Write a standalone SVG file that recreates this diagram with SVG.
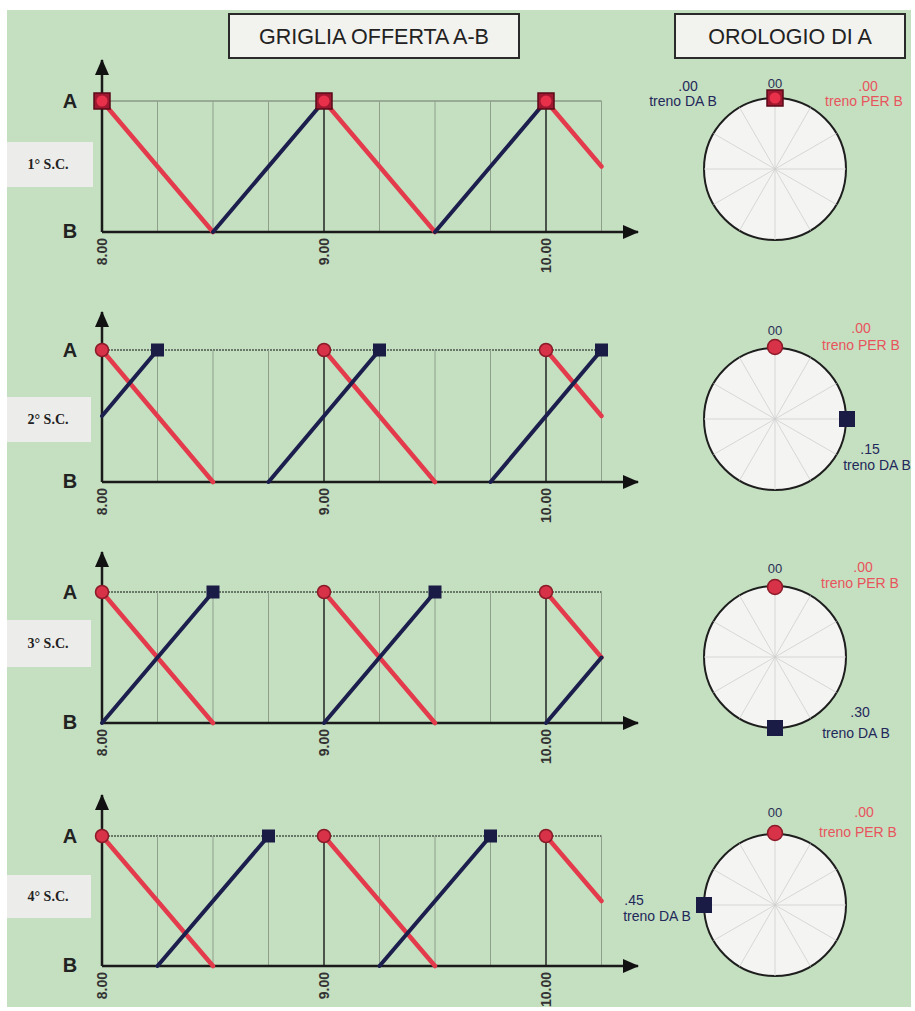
<svg xmlns="http://www.w3.org/2000/svg" width="915" height="1011" viewBox="0 0 915 1011">
<style>
.hdr{fill:#f2f2ee;stroke:#2a2a2a;stroke-width:2}
.hdrt{font-family:"Liberation Sans",Arial,sans-serif;font-size:21.5px;fill:#222;text-anchor:middle}
.ab{font-family:"Liberation Sans",Arial,sans-serif;font-size:20px;font-weight:bold;fill:#222;text-anchor:middle}
.sc{fill:#ececea}
.sct{font-family:"Liberation Serif","Times New Roman",serif;font-size:14px;font-weight:bold;fill:#222;text-anchor:middle}
.tick{font-family:"Liberation Sans",Arial,sans-serif;font-size:14px;font-weight:bold;fill:#333;text-anchor:end}
.grid{stroke:#8f9f8c;stroke-width:1;fill:none}
.hour{stroke:#4a544a;stroke-width:2;fill:none}
.topsolid{stroke:#6a786a;stroke-width:1.2}
.topdot{stroke:#4a564a;stroke-width:1.6;stroke-dasharray:2 1}
.axis{stroke:#1a1a1a;stroke-width:2.5;fill:none}
.red{stroke:#e33b4b;stroke-width:4.5;fill:none;stroke-linecap:round}
.blue{stroke:#1c1f4d;stroke-width:4;fill:none;stroke-linecap:round}
.rc{fill:#d83248;stroke:#8a1a28;stroke-width:1.5}
.nq{fill:#1a1c45}
.rq{fill:#a01830;stroke:#5a0a18;stroke-width:1.5}
.rqc{fill:#e8304a}
.face{fill:#f4f4f2;stroke:#1e1e1e;stroke-width:2}
.spoke{stroke:#cfcfcf;stroke-width:0.8}
.cl{font-family:"Liberation Sans",Arial,sans-serif;font-size:14px;text-anchor:middle}
.cn{fill:#23285a}
.cr{fill:#e8545c}
.c00{font-family:"Liberation Sans",Arial,sans-serif;font-size:13px;fill:#2a2f55;text-anchor:middle}
</style>
<defs>
<marker id="arr" markerUnits="userSpaceOnUse" markerWidth="16" markerHeight="14" refX="15" refY="7" orient="auto">
<path d="M0,0 L16,7 L0,14 Z" fill="#111"/>
</marker>
<g id="spokes">
<line class="spoke" x1="0" y1="-71" x2="0" y2="71"/>
<line class="spoke" x1="-71" y1="0" x2="71" y2="0"/>
<line class="spoke" x1="-35.5" y1="-61.5" x2="35.5" y2="61.5"/>
<line class="spoke" x1="35.5" y1="-61.5" x2="-35.5" y2="61.5"/>
<line class="spoke" x1="-61.5" y1="-35.5" x2="61.5" y2="35.5"/>
<line class="spoke" x1="61.5" y1="-35.5" x2="-61.5" y2="35.5"/>
</g>
</defs>
<rect x="0" y="0" width="915" height="1011" fill="#ffffff"/>
<rect x="7" y="10" width="904" height="997" fill="#c5dfc1"/>

<g id="header-griglia">
<rect class="hdr" x="229" y="14" width="290" height="44"/>
<text class="hdrt" x="374" y="44">GRIGLIA OFFERTA A-B</text>
</g>
<g id="header-orologio">
<rect class="hdr" x="675" y="14" width="230" height="44"/>
<text class="hdrt" x="790" y="44">OROLOGIO DI A</text>
</g>

<!-- Panel 1 -->
<g id="panel-1">
<rect class="sc" x="7" y="142" width="86" height="45"/>
<text class="sct" x="48" y="169">1° S.C.</text>
<text class="ab" x="70" y="108">A</text>
<text class="ab" x="70" y="238">B</text>
<line class="topsolid" x1="102" y1="101" x2="601.5" y2="101"/>
<path class="grid" d="M157.5,101V232M213,101V232M268.5,101V232M379.5,101V232M435,101V232M490.5,101V232M601.5,101V232"/>
<path class="hour" d="M324,101V232M546,101V232"/>
<line class="axis" x1="102" y1="232" x2="102" y2="60" marker-end="url(#arr)"/>
<line class="axis" x1="102" y1="232" x2="638" y2="232" marker-end="url(#arr)"/>
<text class="tick" transform="translate(107,238) rotate(-90)">8.00</text>
<text class="tick" transform="translate(329,238) rotate(-90)">9.00</text>
<text class="tick" transform="translate(551,238) rotate(-90)">10.00</text>
</g>

<!-- Panel 2 -->
<g id="panel-2">
<rect class="sc" x="7" y="397" width="84" height="45"/>
<text class="sct" x="48" y="424">2° S.C.</text>
<text class="ab" x="70" y="357">A</text>
<text class="ab" x="70" y="488">B</text>
<line class="topdot" x1="102" y1="350" x2="601.5" y2="350"/>
<path class="grid" d="M157.5,350V482M213,350V482M268.5,350V482M379.5,350V482M435,350V482M490.5,350V482M601.5,350V482"/>
<path class="hour" d="M324,350V482M546,350V482"/>
<line class="axis" x1="102" y1="482" x2="102" y2="312" marker-end="url(#arr)"/>
<line class="axis" x1="102" y1="482" x2="638" y2="482" marker-end="url(#arr)"/>
<text class="tick" transform="translate(107,488) rotate(-90)">8.00</text>
<text class="tick" transform="translate(329,488) rotate(-90)">9.00</text>
<text class="tick" transform="translate(551,488) rotate(-90)">10.00</text>
</g>

<!-- Panel 3 -->
<g id="panel-3">
<rect class="sc" x="7" y="620" width="84" height="47"/>
<text class="sct" x="48" y="648">3° S.C.</text>
<text class="ab" x="70" y="599">A</text>
<text class="ab" x="70" y="729">B</text>
<line class="topdot" x1="102" y1="592" x2="601.5" y2="592"/>
<path class="grid" d="M157.5,592V723M213,592V723M268.5,592V723M379.5,592V723M435,592V723M490.5,592V723M601.5,592V723"/>
<path class="hour" d="M324,592V723M546,592V723"/>
<line class="axis" x1="102" y1="723" x2="102" y2="552" marker-end="url(#arr)"/>
<line class="axis" x1="102" y1="723" x2="638" y2="723" marker-end="url(#arr)"/>
<text class="tick" transform="translate(107,729) rotate(-90)">8.00</text>
<text class="tick" transform="translate(329,729) rotate(-90)">9.00</text>
<text class="tick" transform="translate(551,729) rotate(-90)">10.00</text>
</g>

<!-- Panel 4 -->
<g id="panel-4">
<rect class="sc" x="7" y="875" width="84" height="43"/>
<text class="sct" x="48" y="901">4° S.C.</text>
<text class="ab" x="70" y="843">A</text>
<text class="ab" x="70" y="972">B</text>
<line class="topdot" x1="102" y1="836" x2="601.5" y2="836"/>
<path class="grid" d="M157.5,836V966M213,836V966M268.5,836V966M379.5,836V966M435,836V966M490.5,836V966M601.5,836V966"/>
<path class="hour" d="M324,836V966M546,836V966"/>
<line class="axis" x1="102" y1="966" x2="102" y2="795" marker-end="url(#arr)"/>
<line class="axis" x1="102" y1="966" x2="638" y2="966" marker-end="url(#arr)"/>
<text class="tick" transform="translate(107,972) rotate(-90)">8.00</text>
<text class="tick" transform="translate(329,972) rotate(-90)">9.00</text>
<text class="tick" transform="translate(551,972) rotate(-90)">10.00</text>
</g>

<g id="connectors">
<path class="red" d="M102,101L213,232M324,101L435,232M546,101L601.5,166.5"/>
<path class="blue" d="M213,232L324,101M435,232L546,101"/>
<path class="red" d="M102,350L213,482M324,350L435,482M546,350L601.5,416"/>
<path class="blue" d="M102,416L157.5,350M268.5,482L379.5,350M490.5,482L601.5,350"/>
<path class="red" d="M102,592L213,723M324,592L435,723M546,592L601.5,657.5"/>
<path class="blue" d="M102,723L213,592M324,723L435,592M546,723L601.5,657.5"/>
<path class="red" d="M102,836L213,966M324,836L435,966M546,836L601.5,901"/>
<path class="blue" d="M157.5,966L268.5,836M379.5,966L490.5,836"/>
</g>

<g id="markers-1">
<rect class="rq" x="94" y="93" width="16" height="16"/><circle class="rqc" cx="102" cy="101" r="5.5"/>
<rect class="rq" x="316" y="93" width="16" height="16"/><circle class="rqc" cx="324" cy="101" r="5.5"/>
<rect class="rq" x="538" y="93" width="16" height="16"/><circle class="rqc" cx="546" cy="101" r="5.5"/>
</g>
<g id="markers-2">
<circle class="rc" cx="102" cy="350" r="6.5"/><circle class="rc" cx="324" cy="350" r="6.5"/><circle class="rc" cx="546" cy="350" r="6.5"/>
<rect class="nq" x="151" y="343.5" width="13" height="13"/><rect class="nq" x="373" y="343.5" width="13" height="13"/><rect class="nq" x="595" y="343.5" width="13" height="13"/>
</g>
<g id="markers-3">
<circle class="rc" cx="102" cy="592" r="6.5"/><circle class="rc" cx="324" cy="592" r="6.5"/><circle class="rc" cx="546" cy="592" r="6.5"/>
<rect class="nq" x="206.5" y="585.5" width="13" height="13"/><rect class="nq" x="428.5" y="585.5" width="13" height="13"/>
</g>
<g id="markers-4">
<circle class="rc" cx="102" cy="836" r="6.5"/><circle class="rc" cx="324" cy="836" r="6.5"/><circle class="rc" cx="546" cy="836" r="6.5"/>
<rect class="nq" x="262" y="829.5" width="13" height="13"/><rect class="nq" x="484" y="829.5" width="13" height="13"/>
</g>

<g id="clock-1">
<circle class="face" cx="775" cy="169" r="71"/>
<use href="#spokes" transform="translate(775,169)"/>
<rect class="rq" x="767" y="90" width="16" height="16"/><circle class="rqc" cx="775" cy="98" r="5.5"/>
<text class="c00" x="775" y="88">00</text>
<text class="cl cn" x="688" y="91">.00</text>
<text class="cl cn" x="683" y="106">treno DA B</text>
<text class="cl cr" x="868" y="91">.00</text>
<text class="cl cr" x="864" y="106">treno PER B</text>
</g>
<g id="clock-2">
<circle class="face" cx="775" cy="419" r="71"/>
<use href="#spokes" transform="translate(775,419)"/>
<circle class="rc" cx="775" cy="347" r="7.5"/>
<rect class="nq" x="839" y="411" width="16" height="16"/>
<text class="c00" x="775" y="335">00</text>
<text class="cl cr" x="861" y="333">.00</text>
<text class="cl cr" x="861" y="350">treno PER B</text>
<text class="cl cn" x="870" y="454">.15</text>
<text class="cl cn" x="877" y="470">treno DA B</text>
</g>
<g id="clock-3">
<circle class="face" cx="775" cy="657" r="71"/>
<use href="#spokes" transform="translate(775,657)"/>
<circle class="rc" cx="775" cy="587" r="7.5"/>
<rect class="nq" x="767" y="720" width="16" height="16"/>
<text class="c00" x="775" y="573">00</text>
<text class="cl cr" x="863" y="572">.00</text>
<text class="cl cr" x="860" y="588">treno PER B</text>
<text class="cl cn" x="860" y="717">.30</text>
<text class="cl cn" x="856" y="738">treno DA B</text>
</g>
<g id="clock-4">
<circle class="face" cx="775" cy="905" r="71"/>
<use href="#spokes" transform="translate(775,905)"/>
<circle class="rc" cx="775" cy="833" r="7.5"/>
<rect class="nq" x="696" y="897" width="16" height="16"/>
<text class="c00" x="775" y="817">00</text>
<text class="cl cr" x="864" y="817">.00</text>
<text class="cl cr" x="858" y="837">treno PER B</text>
<text class="cl cn" x="634" y="905">.45</text>
<text class="cl cn" x="657" y="921">treno DA B</text>
</g>
</svg>
